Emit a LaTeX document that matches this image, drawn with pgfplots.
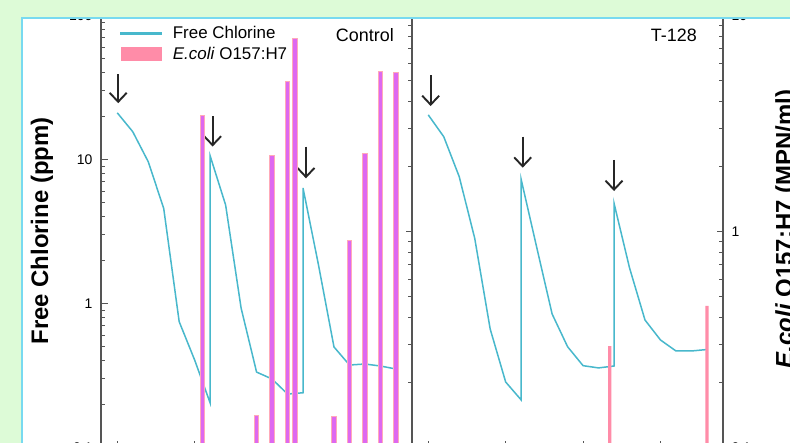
\documentclass[border=0pt]{standalone}
\usepackage{fontspec}
\setmainfont{Liberation Sans}
\usepackage{pgfplots}
\pgfplotsset{compat=1.18}
\usetikzlibrary{arrows.meta}
\definecolor{bggreen}{RGB}{221,251,215}
\definecolor{framecyan}{RGB}{120,218,240}
\definecolor{chlcol}{RGB}{72,184,204}
\definecolor{barmag}{RGB}{222,104,240}
\definecolor{barpink}{RGB}{255,170,185}
\definecolor{ecpink}{RGB}{255,140,168}
\definecolor{axisgray}{RGB}{85,85,85}
\tikzset{arrowdown/.style={black!85, line width=1.9bp, -{Straight Barb[length=9bp,width=17bp]}}}
\pgfplotsset{every axis/.append style={
  scale only axis, width=311bp, height=432bp,
  anchor=south west,
  xmin=-1.05, xmax=19.04,
  axis line style={axisgray, line width=1.3bp},
  tick style={axisgray, line width=1bp},
  tick align=inside,
  major tick length=7bp, minor tick length=4bp,
  ticklabel style={font=\fontsize{14}{14}\selectfont},
  xtick={0,5,10,15}, xticklabels={,,,}, xtick pos=bottom,
 }}
\begin{document}
\begin{tikzpicture}[x=1bp,y=1bp]
\useasboundingbox (0,0) rectangle (790,443);
\fill[bggreen] (0,0) rectangle (790,443);
\begin{scope}
\clip (22,0) rectangle (790,425);
\fill[white] (22,0) rectangle (790,425);
% ---------- panel 1: chlorine ----------
\begin{axis}[ymode=log, at={(101bp,-4.5bp)}, ymin=0.1, ymax=100,
  ytick={0.1,1,10,100}, yticklabels={0.1,1,10,100}, ytick pos=left,
  minor ytick={0.2,0.3,0.4,0.5,0.6,0.7,0.8,0.9,2,3,4,5,6,7,8,9,20,30,40,50,60,70,80,90},
  yticklabel style={xshift=-5bp},
  legend style={at={(axis description cs:0.061,0.979)}, anchor=north west,
    draw=none, fill=none, inner sep=0pt, outer sep=0pt,
    font=\fontsize{17}{17}\selectfont, row sep=3bp,
    /tikz/every odd column/.append style={column sep=9bp}},
  legend cell align=left]
\addlegendimage{color=chlcol, line width=1.9bp, legend image code/.code={\fill[fill=chlcol] (0bp,-0.9bp) rectangle (40bp,0.9bp);}}
\addlegendentry{Free Chlorine}
\addlegendimage{color=ecpink, legend image code/.code={\fill[fill=ecpink] (0bp,-6.5bp) rectangle (40bp,6.5bp);}}
\addlegendentry{\textit{E.coli} O157:H7}
\addplot[chlcol, line width=1.5bp] coordinates {(0,21.1)(1,15.6)(2,9.66)(3,4.58)(4,0.748)(5,0.405)(6,0.204)(6,10.6)(7,4.83)(8,0.93)(9,0.334)(10,0.299)(11,0.235)(12,0.240)(12,6.34)(13,1.85)(14,0.499)(15,0.374)(16,0.380)(17,0.368)(18,0.351)};
\draw[arrowdown] (axis cs:0.06,39.2) -- (axis cs:0.06,24.6);
\draw[arrowdown] (axis cs:6.16,20.0) -- (axis cs:6.16,12.3);
\draw[arrowdown] (axis cs:12.19,12.3) -- (axis cs:12.19,7.40);
\end{axis}
% ---------- panel 1: E. coli ----------
\begin{axis}[ymode=log, log origin y=infty, at={(101bp,-4.5bp)}, ymin=0.1, ymax=10,
  xtick=\empty, ytick={0.1,1,10}, ytick pos=right, yticklabels={,,},
  minor ytick={0.2,0.3,0.4,0.5,0.6,0.7,0.8,0.9,2,3,4,5,6,7,8,9},
  major tick length=6bp]
\addplot[ybar, bar width=4.6bp, fill=barmag, draw=barpink, line width=1bp] coordinates {(5.5,3.46)(9,0.141)(10,2.26)(11,4.97)(11.5,7.84)(14,0.139)(15,0.913)(16,2.30)(17,5.53)(18,5.47)};
\end{axis}
% ---------- panel 2: chlorine ----------
\begin{axis}[ymode=log, at={(412bp,-4.5bp)}, ymin=0.1, ymax=100, ytick=\empty]
\addplot[chlcol, line width=1.5bp] coordinates {(0,20.4)(1,14.4)(2,7.60)(3,2.84)(4,0.665)(5,0.285)(6,0.214)(6,7.28)(7,2.47)(8,0.846)(9,0.501)(10,0.370)(11,0.357)(12,0.368)(12,4.97)(13,1.77)(14,0.768)(15,0.558)(16,0.468)(17,0.468)(18,0.479)};
\draw[arrowdown] (axis cs:0.155,38.6) -- (axis cs:0.155,23.5);
\draw[arrowdown] (axis cs:6.10,14.4) -- (axis cs:6.10,8.77);
\draw[arrowdown] (axis cs:12.0,9.92) -- (axis cs:12.0,6.04);
\end{axis}
% ---------- panel 2: E. coli ----------
\begin{axis}[ymode=log, log origin y=infty, at={(412bp,-4.5bp)}, ymin=0.1, ymax=10,
  xtick=\empty, ytick={0.1,1,10}, ytick pos=right, yticklabels={0.1,1,10},
  minor ytick={0.2,0.3,0.4,0.5,0.6,0.7,0.8,0.9,2,3,4,5,6,7,8,9},
  major tick length=6bp, yticklabel style={xshift=5bp}]
\addplot[ybar, bar width=3.2bp, fill=ecpink, draw=none] coordinates {(11.72,0.295)(18,0.452)};
\end{axis}
\node[anchor=east, inner sep=0pt, font=\fontsize{18}{18}\selectfont] at (394,408) {Control};
\node[anchor=east, inner sep=0pt, font=\fontsize{18}{18}\selectfont] at (697,408) {T-128};
\node[rotate=90, inner sep=0pt, font=\bfseries\fontsize{24}{24}\selectfont] at (42,212) {Free Chlorine (ppm)};
\node[rotate=90, anchor=north, inner sep=0pt, font=\bfseries\fontsize{24}{24}\selectfont] at (775,214) {\textit{E.coli} O157:H7 (MPN/ml)};
\end{scope}
\draw[framecyan, line width=2bp] (22,-5) rectangle (800,425);
\end{tikzpicture}
\end{document}
